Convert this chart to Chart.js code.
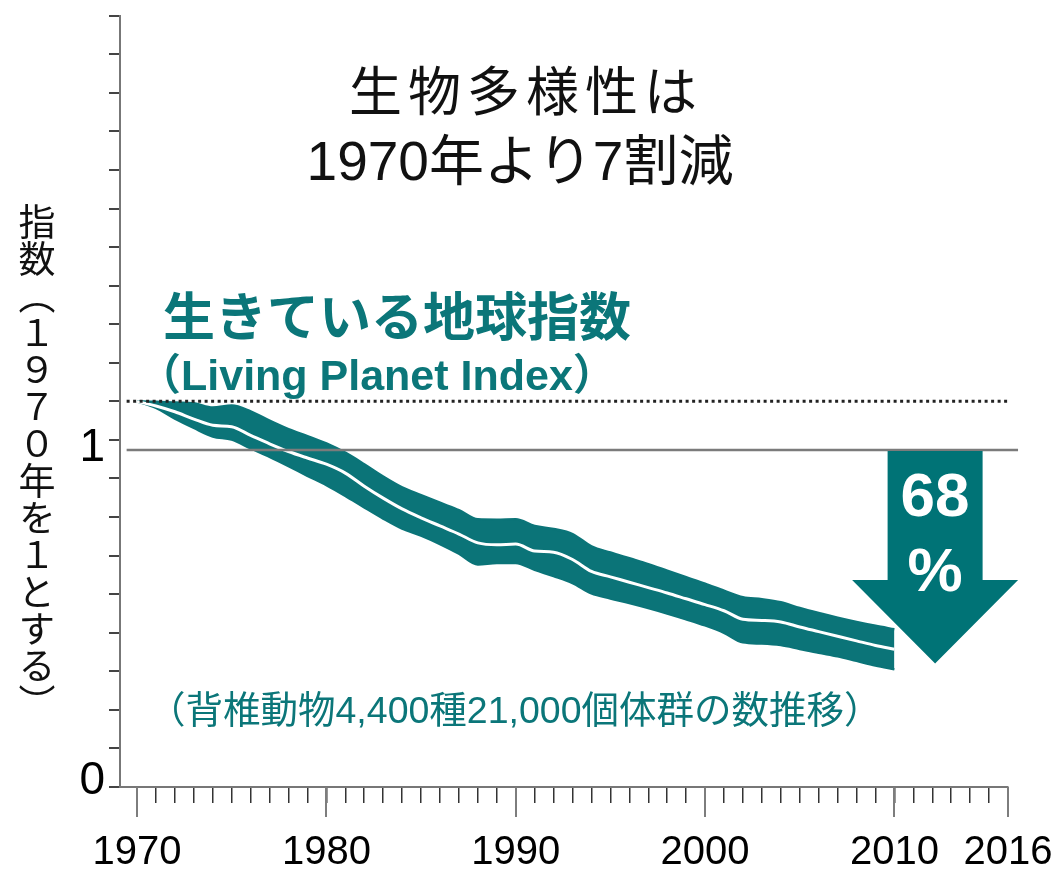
<!DOCTYPE html>
<html lang="ja">
<head>
<meta charset="utf-8">
<title>生物多様性は1970年より7割減</title>
<script src="https://cdn.jsdelivr.net/npm/chart.js@4.4.0/dist/chart.umd.min.js"></script>
<style>
  html, body { margin: 0; padding: 0; background: #fff; }
  #wrap { position: relative; width: 1062px; height: 871px; overflow: hidden;
          font-family: "Liberation Sans", "Noto Sans CJK JP", sans-serif; }
  #lpiChart { position: absolute; left: 0; top: 0; }
  .txt { position: absolute; white-space: nowrap; line-height: 1; }
  .title { left: 0; width: 1040px; text-align: center; color: #111; }
  #title1 { top: 66px; font-size: 53px; letter-spacing: 6px; padding-left: 6px; }
  #title2 { top: 134px; font-size: 55px; }
  .teal { color: #0b7679; }
  #lpiName { left: 163px; top: 292px; font-size: 52px; font-weight: bold; }
  #lpiEn { left: 138px; top: 354px; font-size: 43px; font-weight: bold; }
  #note { left: 148px; top: 692px; font-size: 37.5px; }
  #yTitle { left: 18px; top: 203px; font-size: 37px; color: #111;
            writing-mode: vertical-rl; text-orientation: upright; font-family: "Noto Sans CJK JP", sans-serif; }
</style>
</head>
<body>
<div id="wrap">
  <canvas id="lpiChart" width="1062" height="871"></canvas>
  <div class="txt title" id="title1">生物多様性は</div>
  <div class="txt title" id="title2">1970年より7割減</div>
  <div class="txt teal" id="lpiName">生きている地球指数</div>
  <div class="txt teal" id="lpiEn">（Living Planet Index）</div>
  <div class="txt teal" id="note">（背椎動物4,400種21,000個体群の数推移）</div>
  <div class="txt" id="yTitle">指数（１９７０年を１とする）</div>
</div>
<script>
// Living Planet Index, 1970 = 1
const YEARS = [1970, 1971, 1972, 1973, 1974, 1975, 1976, 1977, 1978, 1979,
               1980, 1981, 1982, 1983, 1984, 1985, 1986, 1987, 1988, 1989,
               1990, 1991, 1992, 1993, 1994, 1995, 1996, 1997, 1998, 1999,
               2000, 2001, 2002, 2003, 2004, 2005, 2006, 2007, 2008, 2009, 2010];
const LPI_INDEX = [1.000, 0.988, 0.973, 0.954, 0.938, 0.934, 0.912, 0.890, 0.870, 0.853,
                   0.837, 0.814, 0.780, 0.749, 0.721, 0.698, 0.677, 0.656, 0.633, 0.628,
                   0.630, 0.612, 0.609, 0.590, 0.559, 0.545, 0.531, 0.517, 0.503, 0.488,
                   0.473, 0.457, 0.435, 0.432, 0.428, 0.415, 0.403, 0.391, 0.379, 0.367, 0.357];
const LPI_UPPER = [1.000, 0.999, 0.997, 0.995, 0.984, 0.989, 0.974, 0.950, 0.928, 0.910,
                   0.891, 0.867, 0.837, 0.805, 0.777, 0.757, 0.737, 0.718, 0.694, 0.693,
                   0.694, 0.677, 0.669, 0.656, 0.624, 0.608, 0.593, 0.578, 0.561, 0.544,
                   0.527, 0.509, 0.492, 0.487, 0.479, 0.464, 0.451, 0.439, 0.428, 0.418, 0.409];
const LPI_LOWER = [1.000, 0.983, 0.955, 0.931, 0.909, 0.901, 0.878, 0.856, 0.832, 0.807,
                   0.783, 0.755, 0.725, 0.696, 0.670, 0.652, 0.630, 0.605, 0.577, 0.581,
                   0.581, 0.563, 0.547, 0.529, 0.502, 0.489, 0.477, 0.464, 0.450, 0.435,
                   0.419, 0.400, 0.375, 0.372, 0.368, 0.358, 0.348, 0.339, 0.327, 0.315, 0.305];

const BASE_LEVEL = 1;          // dotted line (1970 level)
const REFERENCE_LEVEL = 0.874; // grey line next to the "1" label
const DECLINE_PCT = 68;

const LABEL_YEARS = [1970, 1980, 1990, 2000, 2010, 2016];
const Y_LABEL_TEXT = ['0', '1'];
const Y_LABEL_AT = [0, REFERENCE_LEVEL];

const X_MIN = 1969.1, X_MAX = 2016;
const axisTickYears = [];
for (let yr = 1970; yr <= X_MAX; yr++) axisTickYears.push(yr);

const TEAL = '#0b7478';
const pts = arr => YEARS.map((yr, i) => ({ x: yr, y: arr[i] }));

// major ticks, y labels and the 68% arrow
const decorations = {
    id: 'decorations',
    afterDraw(chart) {
        const { ctx, scales: { x, y } } = chart;
        ctx.save();

        // longer ticks on labelled years
        ctx.strokeStyle = '#7d7d7d';
        ctx.lineWidth = 2;
        LABEL_YEARS.forEach(yr => {
            const px = Math.round(x.getPixelForValue(yr));
            ctx.beginPath();
            ctx.moveTo(px, y.bottom);
            ctx.lineTo(px, y.bottom + 30);
            ctx.stroke();
        });

        // y labels
        ctx.fillStyle = '#000';
        ctx.font = '46px "Liberation Sans", Arial, sans-serif';
        ctx.textAlign = 'right';
        ctx.textBaseline = 'middle';
        Y_LABEL_TEXT.forEach((t, i) => {
            const off = Y_LABEL_AT[i] === 0 ? -6 : -2;
            ctx.fillText(t, 105, y.getPixelForValue(Y_LABEL_AT[i]) + off);
        });

        // arrow
        const cx = x.getPixelForValue(2012.15);
        const top = y.getPixelForValue(REFERENCE_LEVEL) + 1;
        const neck = y.getPixelForValue(0.537);
        const tip = y.getPixelForValue(1 - DECLINE_PCT / 100);
        const shaft = 47.5, head = 83;
        ctx.fillStyle = '#007376';
        ctx.beginPath();
        ctx.moveTo(cx - shaft, top);
        ctx.lineTo(cx + shaft, top);
        ctx.lineTo(cx + shaft, neck);
        ctx.lineTo(cx + head, neck);
        ctx.lineTo(cx, tip);
        ctx.lineTo(cx - head, neck);
        ctx.lineTo(cx - shaft, neck);
        ctx.closePath();
        ctx.fill();

        ctx.fillStyle = '#fff';
        ctx.textAlign = 'center';
        ctx.font = 'bold 62px "Liberation Sans", Arial, sans-serif';
        ctx.fillText(String(DECLINE_PCT), cx, top + 48);
        ctx.fillText('%', cx, top + 123);
        ctx.restore();
    }
};

new Chart(document.getElementById('lpiChart').getContext('2d'), {
    type: 'line',
    data: {
        datasets: [
            {
                label: 'base',
                data: [{ x: 1969.45, y: BASE_LEVEL }, { x: X_MAX, y: BASE_LEVEL }],
                borderColor: '#222',
                borderWidth: 3,
                borderDash: [3, 3.5],
                pointRadius: 0,
                order: 0
            },
            {
                label: 'reference',
                data: [{ x: 1969.45, y: REFERENCE_LEVEL }, { x: 2016.53, y: REFERENCE_LEVEL }],
                borderColor: '#7b7b7b',
                borderWidth: 2.5,
                pointRadius: 0,
                clip: false,
                order: 0
            },
            {
                label: 'LPI',
                data: pts(LPI_INDEX),
                borderColor: '#ffffff',
                borderWidth: 3,
                pointRadius: 0,
                cubicInterpolationMode: 'monotone',
                order: 1
            },
            {
                label: 'upper',
                data: pts(LPI_UPPER),
                borderColor: TEAL,
                backgroundColor: TEAL,
                borderWidth: 2.5,
                pointRadius: 0,
                fill: '+1',
                cubicInterpolationMode: 'monotone',
                order: 3
            },
            {
                label: 'lower',
                data: pts(LPI_LOWER),
                borderColor: TEAL,
                borderWidth: 2.5,
                pointRadius: 0,
                fill: false,
                cubicInterpolationMode: 'monotone',
                order: 3
            }
        ]
    },
    options: {
        responsive: false,
        devicePixelRatio: 1,
        animation: false,
        layout: { padding: { left: 0, top: 15.7, right: 54, bottom: 0 } },
        plugins: {
            legend: { display: false },
            tooltip: { enabled: false }
        },
        scales: {
            x: {
                type: 'linear',
                min: X_MIN,
                max: X_MAX,
                afterBuildTicks: scale => {
                    scale.ticks = axisTickYears.map(v => ({ value: v }));
                },
                afterFit: scale => {
                    scale.height = 84;
                    scale.paddingLeft = 0;
                    scale.paddingRight = 0;
                },
                border: { display: true, color: '#777', width: 2 },
                grid: {
                    drawOnChartArea: false,
                    tickLength: 16,
                    color: '#333',
                    lineWidth: 1.5
                },
                ticks: {
                    autoSkip: false,
                    maxRotation: 0,
                    padding: 26,
                    color: '#000',
                    font: { size: 40, family: '"Liberation Sans", Arial, sans-serif' },
                    callback: value => LABEL_YEARS.includes(value) ? String(value) : ''
                }
            },
            y: {
                min: 0,
                max: 2,
                afterFit: scale => {
                    scale.width = 120;
                    scale.paddingTop = 0;
                    scale.paddingBottom = 0;
                },
                border: { display: true, color: '#777', width: 2 },
                grid: {
                    drawOnChartArea: false,
                    tickLength: 11,
                    color: '#444',
                    lineWidth: 2
                },
                ticks: { display: false, stepSize: 0.1 }
            }
        }
    },
    plugins: [decorations]
});
</script>
</body>
</html>
